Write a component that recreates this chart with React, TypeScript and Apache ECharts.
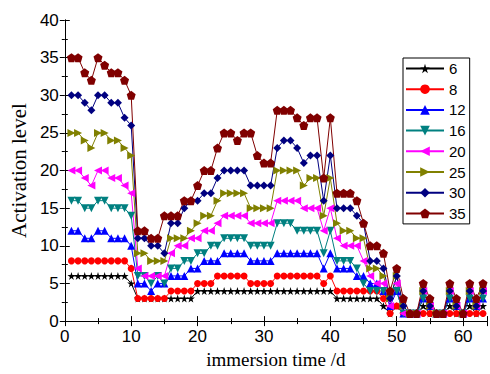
import React, { useEffect, useRef } from "react";
import * as echarts from "echarts";

const days = [1,2,3,4,5,6,7,8,9,10,11,12,13,14,15,16,17,18,19,20,21,22,23,24,25,26,27,28,29,30,31,32,33,34,35,36,37,38,39,40,41,42,43,44,45,46,47,48,49,50,51,52,53,54,55,56,57,58,59,60,61,62,63];

const s6 = [6,6,6,6,6,6,6,6,6,5, 3,3,3,3,3, 3,3,3,3,4,4,4,4,4,4,4,4,4,4,4,4, 4,4,4,4,4,4,4,4,4, 3,3,3,3,3,3,3,2, 1,2,1,1,1,2,1,1,1,2,1,1,2,1,2];
const s8 = [8,8,8,8,8,8,8,8,8,7, 3,3,3,3,3, 4,4,4,4,5,5,5,6,6,6,6,6,5,5,5,5, 6,6,6,6,6,6,6,5,6, 4,4,4,4,4,4,4,3, 1,2,1,1,1,1,1,1,1,1,1,1,1,1,1];
const s12 = [12,12,11,11,12,12,11,11,11,10, 5,5,4,5,5, 6,6,6,7,7,8,8,8,9,9,9,9,8,8,8,8, 9,9,9,9,9,9,9,7,9, 7,7,7,6,6,5,5,4, 2,4,1,1,1,3,2,1,1,3,2,1,3,2,3];
const s16 = [16,16,15,15,16,16,15,15,15,14, 6,6,5,6,5, 7,7,8,8,9,9,10,10,11,11,11,11,10,10,10,10, 13,13,13,12,12,12,12,9,12, 8,8,8,7,5,4,4,4, 3,4,1,1,1,3,2,1,1,3,2,1,3,2,3];
const s20 = [20,20,19,18,20,20,19,19,18,17, 7,6,6,6,6, 9,10,10,11,11,12,12,13,14,14,14,14,13,13,13,13, 16,16,16,16,15,15,15,12,15, 11,10,10,10,8,6,5,5, 2,5,1,1,1,4,2,1,1,4,2,1,4,2,4];
const s25 = [25,25,24,23,25,25,24,24,23,22, 9,9,8,8,8, 11,11,11,12,13,14,14,16,17,17,17,17,15,15,15,15, 20,20,20,20,18,19,19,14,19, 13,12,12,11,11,7,7,6, 3,6,2,1,1,4,2,1,1,4,2,1,4,2,4];
const s30 = [30,30,29,28,30,30,29,29,27,26, 11,11,10,10,9, 13,13,15,16,16,17,17,19,20,20,20,20,18,18,18,18, 23,24,24,23,21,22,22,16,22, 15,15,15,14,13,8,8,7, 3,6,2,1,1,4,2,1,1,4,2,1,4,2,4];
const s35 = [35,35,33,32,35,34,33,33,32,30, 12,12,11,11,14, 14,14,16,16,18,20,20,23,25,25,24,25,25,22,21,21, 28,28,28,27,26,27,27,19,27, 17,17,17,16,13,10,10,9, 4,7,3,1,1,5,3,1,1,5,3,1,5,3,5];

const seriesNames = ["6", "8", "12", "16", "20", "25", "30", "35"];
const seriesValues = [s6, s8, s12, s16, s20, s25, s30, s35];
const seriesColors = ["#000000", "#ff0000", "#0000ff", "#008080", "#ff00ff", "#808000", "#000080", "#800000"];

const STAR = "path://M50,0 L61,35 L98,35 L68,57 L79,91 L50,70 L21,91 L32,57 L2,35 L39,35 Z";
const PENT = "path://M50,0 L98,36 L80,95 L20,95 L2,36 Z";
const UP = "path://M50,0 L100,90 L0,90 Z";
const DOWN = "path://M0,0 L100,0 L50,90 Z";
const LEFT = "path://M0,50 L90,0 L90,100 Z";
const RIGHT = "path://M0,0 L90,50 L0,100 Z";
const DIAM = "path://M50,0 L100,50 L50,100 L0,50 Z";
const seriesSymbols = [STAR, "circle", UP, DOWN, LEFT, RIGHT, DIAM, PENT];
const seriesSizes = [8, 7, 8, 8, 8, 8, 8, 9];

const XMAX = 63.6;

export default function App() {
  const ref = useRef<HTMLDivElement>(null);
  useEffect(() => {
    const chart = echarts.init(ref.current!, null, { renderer: "svg" });
    const labelFont = { fontFamily: "Liberation Sans", fontSize: 17, color: "#000" };
    const axisLine = { show: true, lineStyle: { color: "#000", width: 1 } };
    const tick = { show: true, inside: true, length: 5, lineStyle: { color: "#000" } };
    const minor = { show: true, splitNumber: 2, length: 3, lineStyle: { color: "#000" } };
    chart.setOption({
      animation: false,
      backgroundColor: "#fff",
      grid: { left: 63, top: 20, right: 2, bottom: 48, containLabel: false },
      legend: {
        orient: "vertical",
        left: 403,
        top: 58,
        data: seriesNames,
        itemWidth: 38,
        itemHeight: 12,
        itemGap: 5.7,
        padding: [3, 4, 3, 2],
        borderColor: "#000",
        borderWidth: 1,
        textStyle: { fontFamily: "Liberation Sans", fontSize: 15, color: "#000" },
      },
      xAxis: [
        {
          type: "value",
          min: 0,
          max: XMAX,
          interval: 10,
          position: "bottom",
          axisLine,
          axisTick: tick,
          minorTick: minor,
          splitLine: { show: false },
          axisLabel: {
            ...labelFont,
            margin: 7,
            formatter: (v: number) => (v % 10 === 0 ? String(v) : ""),
          },
          name: "immersion time /d",
          nameLocation: "middle",
          nameGap: 28,
          nameTextStyle: { fontFamily: "Liberation Serif", fontSize: 19, color: "#000" },
        },
        {
          type: "value",
          min: 0,
          max: XMAX,
          interval: 10,
          position: "top",
          axisLine,
          axisTick: tick,
          minorTick: minor,
          splitLine: { show: false },
          axisLabel: { show: false },
        },
      ],
      yAxis: [
        {
          type: "value",
          min: 0,
          max: 40,
          interval: 5,
          position: "left",
          axisLine,
          axisTick: tick,
          minorTick: minor,
          splitLine: { show: false },
          axisLabel: { ...labelFont, margin: 6 },
          name: "Activation level",
          nameLocation: "middle",
          nameGap: 33,
          nameTextStyle: { fontFamily: "Liberation Serif", fontSize: 21, color: "#000" },
        },
        {
          type: "value",
          min: 0,
          max: 40,
          interval: 5,
          position: "right",
          axisLine,
          axisTick: tick,
          minorTick: minor,
          splitLine: { show: false },
          axisLabel: { show: false },
        },
      ],
      series: seriesNames.map((name, i) => ({
        name,
        type: "line",
        xAxisIndex: 0,
        yAxisIndex: 0,
        data: days.map((d, j) => [d, seriesValues[i][j]]),
        symbol: seriesSymbols[i],
        symbolSize: seriesSizes[i],
        showAllSymbol: true,
        color: seriesColors[i],
        itemStyle: { color: seriesColors[i] },
        lineStyle: { color: seriesColors[i], width: 1 },
      })),
    });
    return () => chart.dispose();
  }, []);
  return <div ref={ref} style={{ width: 490, height: 374, position: "absolute", left: 0, top: 0 }} />;
}
